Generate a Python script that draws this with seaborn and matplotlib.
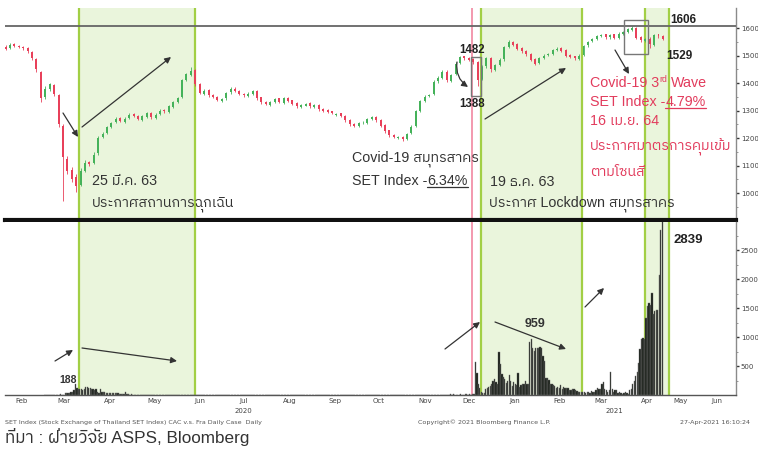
import numpy as np
import pandas as pd
import matplotlib
matplotlib.use("Agg")
import matplotlib.pyplot as plt
import matplotlib.dates as mdates
from matplotlib.patches import Rectangle, FancyArrowPatch
from matplotlib.lines import Line2D
from matplotlib import font_manager
from matplotlib.ft2font import FT2Font
import seaborn as sns

# ------------------------------------------------------------------ data
set_dates = pd.date_range("2020-02-04", "2021-04-26", freq="3D")
set_open = [
    1530, 1528, 1542, 1536, 1530, 1527, 1512, 1488, 1440, 1350,
    1378, 1392, 1355, 1245, 1125, 1085, 1060, 1030, 1082, 1112,
    1108, 1145, 1205, 1218, 1242, 1258, 1272, 1260, 1272, 1288,
    1282, 1266, 1278, 1290, 1272, 1287, 1302, 1296, 1312, 1332,
    1350, 1412, 1430, 1448, 1398, 1362, 1375, 1357, 1350, 1336,
    1345, 1366, 1380, 1372, 1362, 1353, 1360, 1372, 1348, 1332,
    1322, 1332, 1344, 1328, 1347, 1337, 1327, 1312, 1318, 1327,
    1312, 1322, 1307, 1302, 1297, 1285, 1290, 1282, 1267, 1252,
    1243, 1257, 1256, 1268, 1277, 1267, 1247, 1228, 1212, 1200,
    1205, 1196, 1218, 1245, 1300, 1333, 1352, 1360, 1407, 1418,
    1442, 1408, 1432, 1472, 1497, 1492, 1487, 1476, 1415, 1462,
    1492, 1448, 1467, 1487, 1532, 1550, 1542, 1527, 1517, 1507,
    1487, 1472, 1492, 1502, 1507, 1522, 1527, 1520, 1502, 1497,
    1488, 1502, 1537, 1552, 1562, 1572, 1577, 1566, 1577, 1563,
    1578, 1587, 1593, 1602, 1567, 1553, 1562, 1540, 1577, 1572]
set_close = [
    1525, 1540, 1535, 1532, 1528, 1515, 1490, 1450, 1345, 1380,
    1395, 1360, 1250, 1130, 1080, 1050, 1025, 1080, 1110, 1105,
    1140, 1200, 1215, 1240, 1255, 1270, 1262, 1270, 1285, 1280,
    1268, 1280, 1292, 1275, 1285, 1300, 1298, 1315, 1330, 1345,
    1410, 1432, 1445, 1395, 1365, 1372, 1355, 1348, 1340, 1342,
    1365, 1378, 1370, 1360, 1355, 1362, 1370, 1345, 1330, 1325,
    1330, 1342, 1330, 1345, 1335, 1325, 1315, 1320, 1325, 1315,
    1320, 1305, 1300, 1295, 1290, 1288, 1280, 1265, 1250, 1245,
    1255, 1258, 1270, 1275, 1265, 1245, 1225, 1210, 1205, 1203,
    1195, 1215, 1242, 1298, 1335, 1350, 1358, 1405, 1420, 1440,
    1410, 1430, 1470, 1495, 1490, 1485, 1478, 1412, 1460, 1490,
    1450, 1465, 1485, 1530, 1548, 1540, 1525, 1515, 1505, 1485,
    1470, 1490, 1500, 1505, 1520, 1525, 1518, 1500, 1495, 1490,
    1500, 1535, 1550, 1560, 1570, 1575, 1568, 1575, 1565, 1580,
    1585, 1595, 1600, 1565, 1555, 1560, 1542, 1575, 1570, 1560]
set_high = [
    1538, 1545, 1546, 1540, 1535, 1530, 1515, 1492, 1445, 1388,
    1402, 1396, 1360, 1250, 1135, 1095, 1068, 1090, 1120, 1118,
    1148, 1208, 1222, 1245, 1260, 1276, 1278, 1275, 1290, 1292,
    1285, 1285, 1296, 1294, 1290, 1305, 1306, 1320, 1335, 1350,
    1415, 1438, 1458, 1452, 1400, 1378, 1380, 1360, 1354, 1346,
    1369, 1384, 1384, 1375, 1365, 1366, 1374, 1375, 1350, 1336,
    1334, 1346, 1347, 1349, 1350, 1340, 1330, 1324, 1329, 1330,
    1324, 1325, 1310, 1305, 1299, 1292, 1292, 1285, 1270, 1255,
    1259, 1262, 1274, 1280, 1280, 1270, 1250, 1230, 1215, 1207,
    1208, 1219, 1246, 1302, 1340, 1355, 1362, 1410, 1425, 1446,
    1446, 1434, 1475, 1500, 1500, 1496, 1490, 1480, 1465, 1495,
    1496, 1470, 1490, 1535, 1556, 1554, 1545, 1530, 1520, 1510,
    1490, 1494, 1504, 1509, 1524, 1530, 1530, 1524, 1505, 1500,
    1504, 1540, 1554, 1565, 1575, 1580, 1580, 1579, 1580, 1584,
    1590, 1599, 1606, 1605, 1570, 1565, 1566, 1580, 1580, 1575]
set_low = [
    1520, 1524, 1530, 1527, 1522, 1510, 1485, 1440, 1330, 1342,
    1372, 1352, 1240, 970, 1070, 1040, 1005, 1025, 1075, 1098,
    1104, 1140, 1200, 1214, 1238, 1254, 1258, 1255, 1268, 1276,
    1264, 1262, 1274, 1270, 1268, 1283, 1292, 1292, 1308, 1328,
    1346, 1408, 1426, 1390, 1360, 1358, 1350, 1344, 1336, 1332,
    1340, 1362, 1366, 1356, 1350, 1349, 1356, 1340, 1325, 1320,
    1318, 1328, 1326, 1324, 1330, 1320, 1310, 1308, 1315, 1310,
    1308, 1300, 1296, 1290, 1286, 1282, 1276, 1260, 1245, 1240,
    1240, 1252, 1252, 1264, 1260, 1240, 1220, 1205, 1200, 1196,
    1190, 1192, 1214, 1240, 1296, 1330, 1348, 1355, 1402, 1415,
    1405, 1404, 1428, 1468, 1485, 1480, 1470, 1388, 1410, 1456,
    1440, 1444, 1462, 1482, 1528, 1535, 1520, 1510, 1500, 1480,
    1465, 1468, 1488, 1498, 1503, 1518, 1514, 1496, 1490, 1484,
    1484, 1498, 1532, 1548, 1558, 1568, 1562, 1562, 1560, 1560,
    1574, 1583, 1590, 1560, 1550, 1548, 1529, 1536, 1565, 1555]

case_dates_2020 = pd.date_range("2020-03-01", "2020-04-30")
cases_2020 = [
    0, 1, 0, 0, 4, 1, 2, 0, 0, 0, 6, 11, 5,
    7, 32, 33, 30, 35, 60, 50, 89, 188, 122, 106, 107, 111, 91, 109, 143, 136, 127,
    120, 104, 103, 89, 102, 51, 38, 111, 54, 50, 45, 33, 28, 34, 30,
    29, 28, 33, 32, 27, 19, 15, 13, 15, 53, 15, 9, 7, 9, 7]
case_dates_2021 = pd.date_range("2020-12-01", "2021-04-26")
cases_2021 = [
    # Dec 2020
    6, 11, 7, 12, 7, 6, 5, 2, 11, 4, 4, 14, 13, 3, 9, 7, 12, 19, 576, 382,
    190, 120, 46, 37, 32, 110, 121, 144, 155, 194, 250,
    # Jan 2021
    279, 216, 194, 745, 527, 365, 305, 271, 212, 249, 339, 250, 157, 218, 188,
    169, 374, 146, 171, 186, 192, 244, 198, 187, 914, 959, 819, 756, 802, 812, 803,
    # Feb 2021
    835, 805, 664, 590, 300, 297, 258, 194, 188, 170, 150, 125, 143, 120,
    180, 98, 143, 120, 113, 120, 85, 85, 99, 98, 78, 72, 60, 55,
    # Mar 2021
    45, 47, 58, 38, 54, 45, 40, 61, 53, 45, 78, 120, 100, 112, 186, 220,
    110, 80, 60, 85, 390, 100, 60, 90, 80, 40, 50, 30, 25, 40, 50,
    # Apr 2021
    26, 24, 84, 96, 194, 250, 334, 405, 559, 789, 967, 985, 965, 1335, 1543,
    1582, 1547, 1767, 1390, 1443, 1458, 1470, 2070, 2839, 2438, 2048]

month_labels = ["Feb", "Mar", "Apr", "May", "Jun", "Jul", "Aug", "Sep", "Oct",
                "Nov", "Dec", "Jan", "Feb", "Mar", "Apr", "May", "Jun"]
month_label_dates = ["2020-02-15", "2020-03-15", "2020-04-15", "2020-05-15",
                     "2020-06-15", "2020-07-15", "2020-08-15", "2020-09-15",
                     "2020-10-15", "2020-11-15", "2020-12-15", "2021-01-15",
                     "2021-02-15", "2021-03-15", "2021-04-15", "2021-05-08",
                     "2021-06-02"]
set_ticks = [1000, 1100, 1200, 1300, 1400, 1500, 1600]
case_ticks = [500, 1000, 1500, 2000, 2500]
green_periods = [("2020-03-25", "2020-06-12"), ("2020-12-23", "2021-03-02"),
                 ("2021-04-14", "2021-04-30")]
pink_date = "2020-12-17"

# ------------------------------------------------------------------ style
sns.set_style("white")


def find_thai_font():
    found = []
    for f in font_manager.fontManager.ttflist:
        try:
            if 0x0E01 in FT2Font(f.fname).get_charmap():
                found.append(f.name)
        except Exception:
            continue
    if not found:
        return None
    for key in ("Thai", "Sans"):
        for n in found:
            if key in n:
                return n
    return found[0]


thai = find_thai_font()
FAM = ["Liberation Sans"] + ([thai] if thai else []) + ["DejaVu Sans"]
plt.rcParams["font.family"] = FAM

W, H = 758, 459
fig = plt.figure(figsize=(W / 100, H / 100), dpi=100)
fig.patch.set_facecolor("white")


def fx(x):
    return x / W


def fy(y):
    return 1 - y / H


ax1 = fig.add_axes([fx(5), fy(220), (736 - 5) / W, (220 - 8) / H])
ax2 = fig.add_axes([fx(5), fy(395), (736 - 5) / W, (395 - 222) / H])

xmin = mdates.date2num(pd.Timestamp("2020-02-03 14:00"))
xmax = mdates.date2num(pd.Timestamp("2021-06-14 17:00"))

GREEN_FILL = "#eaf5dc"
GREEN_LINE = "#a2cf45"
for ax in (ax1, ax2):
    ax.set_facecolor("white")
    for a, b in green_periods:
        a_n = mdates.date2num(pd.Timestamp(a))
        b_n = mdates.date2num(pd.Timestamp(b))
        ax.axvspan(a_n, b_n, color=GREEN_FILL, lw=0, zorder=0)
        ax.axvline(a_n, color=GREEN_LINE, lw=1.6, zorder=1)
        ax.axvline(b_n, color=GREEN_LINE, lw=1.6, zorder=1)
    ax.axvline(mdates.date2num(pd.Timestamp(pink_date)), color="#f07d98",
               lw=1.1, zorder=1)

# ------------------------------------------------------------------ candles
xs = mdates.date2num(set_dates)
o = np.array(set_open, float)
c = np.array(set_close, float)
cols = np.where(c >= o, "#45b25a", "#e8405a")
body = c - o
body = np.where(np.abs(body) < 3, np.where(body >= 0, 3, -3), body)
ax1.vlines(xs, set_low, set_high, colors=cols, lw=0.6, zorder=3)
ax1.bar(xs, body, bottom=o, width=1.35, color=cols, lw=0, zorder=3)
ax1.axhline(1606, color="#666666", lw=1.3, zorder=4)
ax1.set_xlim(xmin, xmax)
ax1.set_ylim(902, 1673)

# ------------------------------------------------------------------ cases bars
cases_df = pd.DataFrame({
    "date": np.concatenate([mdates.date2num(case_dates_2020),
                            mdates.date2num(case_dates_2021)]),
    "cases": cases_2020 + cases_2021,
})
sns.histplot(data=cases_df, x="date", weights="cases", binwidth=1, ax=ax2,
             color="#141a12", edgecolor="#6e6e6e", linewidth=0.3, alpha=1,
             shrink=0.85, zorder=3)
ax2.set_xlim(xmin, xmax)
ax2.set_ylim(0, 2983)
ax2.set_xlabel("")
ax2.set_ylabel("")
ax1.set_xlabel("")
ax1.set_ylabel("")

# ------------------------------------------------------------------ axes look
for ax in (ax1, ax2):
    ax.spines["left"].set_visible(False)
    ax.spines["top"].set_visible(False)
    ax.spines["right"].set_color("#8a8a8a")
    ax.spines["right"].set_linewidth(1.0)
    ax.yaxis.tick_right()
    ax.tick_params(axis="y", which="major", direction="out", length=2.5,
                   width=1.0, color="#333333", labelsize=5, pad=1,
                   labelcolor="#444444")
    ax.tick_params(axis="y", which="minor", direction="out", length=1.5,
                   width=0.6, color="#888888")
    ax.grid(False)

ax1.spines["bottom"].set_color("#111111")
ax1.spines["bottom"].set_linewidth(3)
ax1.set_xticks([])
ax1.set_yticks(set_ticks)
ax1.set_yticks([v + 50 for v in set_ticks[:-1]] + [950], minor=True)
ax1.set_yticklabels([str(v) for v in set_ticks], family="DejaVu Sans")

ax2.spines["bottom"].set_color("#555555")
ax2.spines["bottom"].set_linewidth(1.0)
ax2.set_yticks(case_ticks)
ax2.set_yticks([250, 750, 1250, 1750, 2250, 2750], minor=True)
ax2.set_yticklabels([str(v) for v in case_ticks], family="DejaVu Sans")
ax2.set_xticks(mdates.date2num(pd.to_datetime(month_label_dates)))
ax2.set_xticklabels(month_labels, family="DejaVu Sans")
ax2.set_xticks(mdates.date2num(pd.date_range("2020-03-01", "2021-06-01",
                                              freq="MS")), minor=True)
ax2.tick_params(axis="x", which="major", length=0, labelsize=5, pad=2.5,
                labelcolor="#444444")
ax2.tick_params(axis="x", which="minor", direction="inout", length=3,
                width=0.6, color="#666666")

# ------------------------------------------------------------------ annotations
renderer = fig.canvas.get_renderer()


def runs(x, y, parts, color, size, weight="normal"):
    """parts: list of (text, scale, dy, underline, gap)"""
    cx = x
    for s, scale, dy, ul, gap in parts:
        cx += gap
        t = fig.text(fx(cx), fy(y + dy), s, fontsize=size * scale, color=color,
                     family=FAM, va="baseline", ha="left", weight=weight)
        bb = t.get_window_extent(renderer)
        if ul:
            fig.add_artist(Line2D([fx(bb.x0), fx(bb.x1)], [fy(y + 2.2)] * 2,
                                  transform=fig.transFigure, color=color,
                                  lw=0.9))
        cx = bb.x1


DARK = "#333333"
RED = "#e23b5c"
runs(92, 185, [("25 มี.ค. 63", 1, 0, False, 0)], DARK, 10.3)
runs(92, 207, [("ประกาศสถานการฉุกเฉิน", 1, 0, False, 0)], DARK, 10.3)
runs(352, 162, [("Covid-19 สมุทรสาคร", 1, 0, False, 0)], DARK, 10.3)
runs(352, 185, [("SET Index -", 1, 0, False, 0), ("6.34%", 1, 0, True, 0)],
     DARK, 10.3)
runs(490, 186, [("19 ธ.ค. 63", 1, 0, False, 0)], DARK, 10.3)
runs(489, 207, [("ประกาศ Lockdown สมุทรสาคร", 1, 0, False, 0)], DARK, 10.3)

runs(590, 87, [("Covid-19 3", 1, 0, False, 0), ("rd", 0.6, -5, False, 0.5),
               ("Wave", 1, 0, False, 3)], RED, 10.3)
runs(590, 106, [("SET Index -", 1, 0, False, 0), ("4.79%", 1, 0, True, 0)],
     RED, 10.3)
runs(590, 125, [("16 เม.ย. 64", 1, 0, False, 0)], RED, 10.3)
runs(590, 151, [("ประกาศมาตรการคุมเข้ม", 1, 0, False, 0)], RED, 10.3)
runs(590, 176, [("ตามโซนสี", 1, 0, False, 0)], RED, 10.3)

runs(459, 53, [("1482", 1, 0, False, 0)], "#222222", 8.3, "bold")
runs(459, 107, [("1388", 1, 0, False, 0)], "#222222", 8.3, "bold")
runs(670, 23, [("1606", 1, 0, False, 0)], "#222222", 8.5, "bold")
runs(666, 59, [("1529", 1, 0, False, 0)], "#222222", 8.5, "bold")
runs(673, 243, [("2839", 1, 0, False, 0)], "#222222", 9.5, "bold")
runs(525, 327, [("959", 1, 0, False, 0)], "#333333", 9.0, "bold")
runs(59, 383, [("188", 1, 0, False, 0)], "#333333", 7.5, "bold")

# boxes
for (x0, y0, x1, y1) in [(471, 57, 481, 96), (624, 20, 648, 54)]:
    fig.add_artist(Rectangle((fx(x0), fy(y1)), (x1 - x0) / W, (y1 - y0) / H,
                             transform=fig.transFigure, fill=False,
                             edgecolor="#777777", lw=1.0, zorder=6))

# arrows
arrows = [((63, 113), (78, 137), 0), ((82, 127), (171, 57), 0),
          ((457, 62), (468, 87), 0.3), ((485, 119), (566, 68), 0),
          ((615, 50), (629, 74), 0),
          ((55, 361), (73, 350), 0), ((82, 348), (177, 361), 0),
          ((445, 349), (480, 322), 0), ((495, 322), (566, 349), 0),
          ((585, 307), (604, 288), 0)]
for p0, p1, rad in arrows:
    fig.add_artist(FancyArrowPatch((fx(p0[0]), fy(p0[1])),
                                   (fx(p1[0]), fy(p1[1])),
                                   transform=fig.transFigure,
                                   arrowstyle="-|>", mutation_scale=9,
                                   connectionstyle=f"arc3,rad={rad}",
                                   color="#333333", lw=0.9,
                                   shrinkA=0, shrinkB=0, zorder=7))

# year labels and footers
fig.text(fx(243), fy(411), "2020", fontsize=5, color="#444444",
         family="DejaVu Sans", ha="center", va="center")
fig.text(fx(614), fy(411), "2021", fontsize=5, color="#444444",
         family="DejaVu Sans", ha="center", va="center")
fig.text(fx(5), fy(424), "SET Index (Stock Exchange of Thailand SET Index) "
         "CAC v.s. Fra Daily Case  Daily", fontsize=4.6, color="#555555",
         family="DejaVu Sans", ha="left", va="baseline")
fig.text(fx(418), fy(424), "Copyright© 2021 Bloomberg Finance L.P.",
         fontsize=4.6, color="#555555", family="DejaVu Sans", ha="left",
         va="baseline")
fig.text(fx(680), fy(424), "27-Apr-2021 16:10:24", fontsize=4.6,
         color="#555555", family="DejaVu Sans", ha="left", va="baseline")
runs(5, 443, [("ที่มา : ฝ่ายวิจัย ASPS, Bloomberg", 1, 0, False, 0)],
     "#333333", 12.3)

fig.savefig("out.png", dpi=100, facecolor="white")
